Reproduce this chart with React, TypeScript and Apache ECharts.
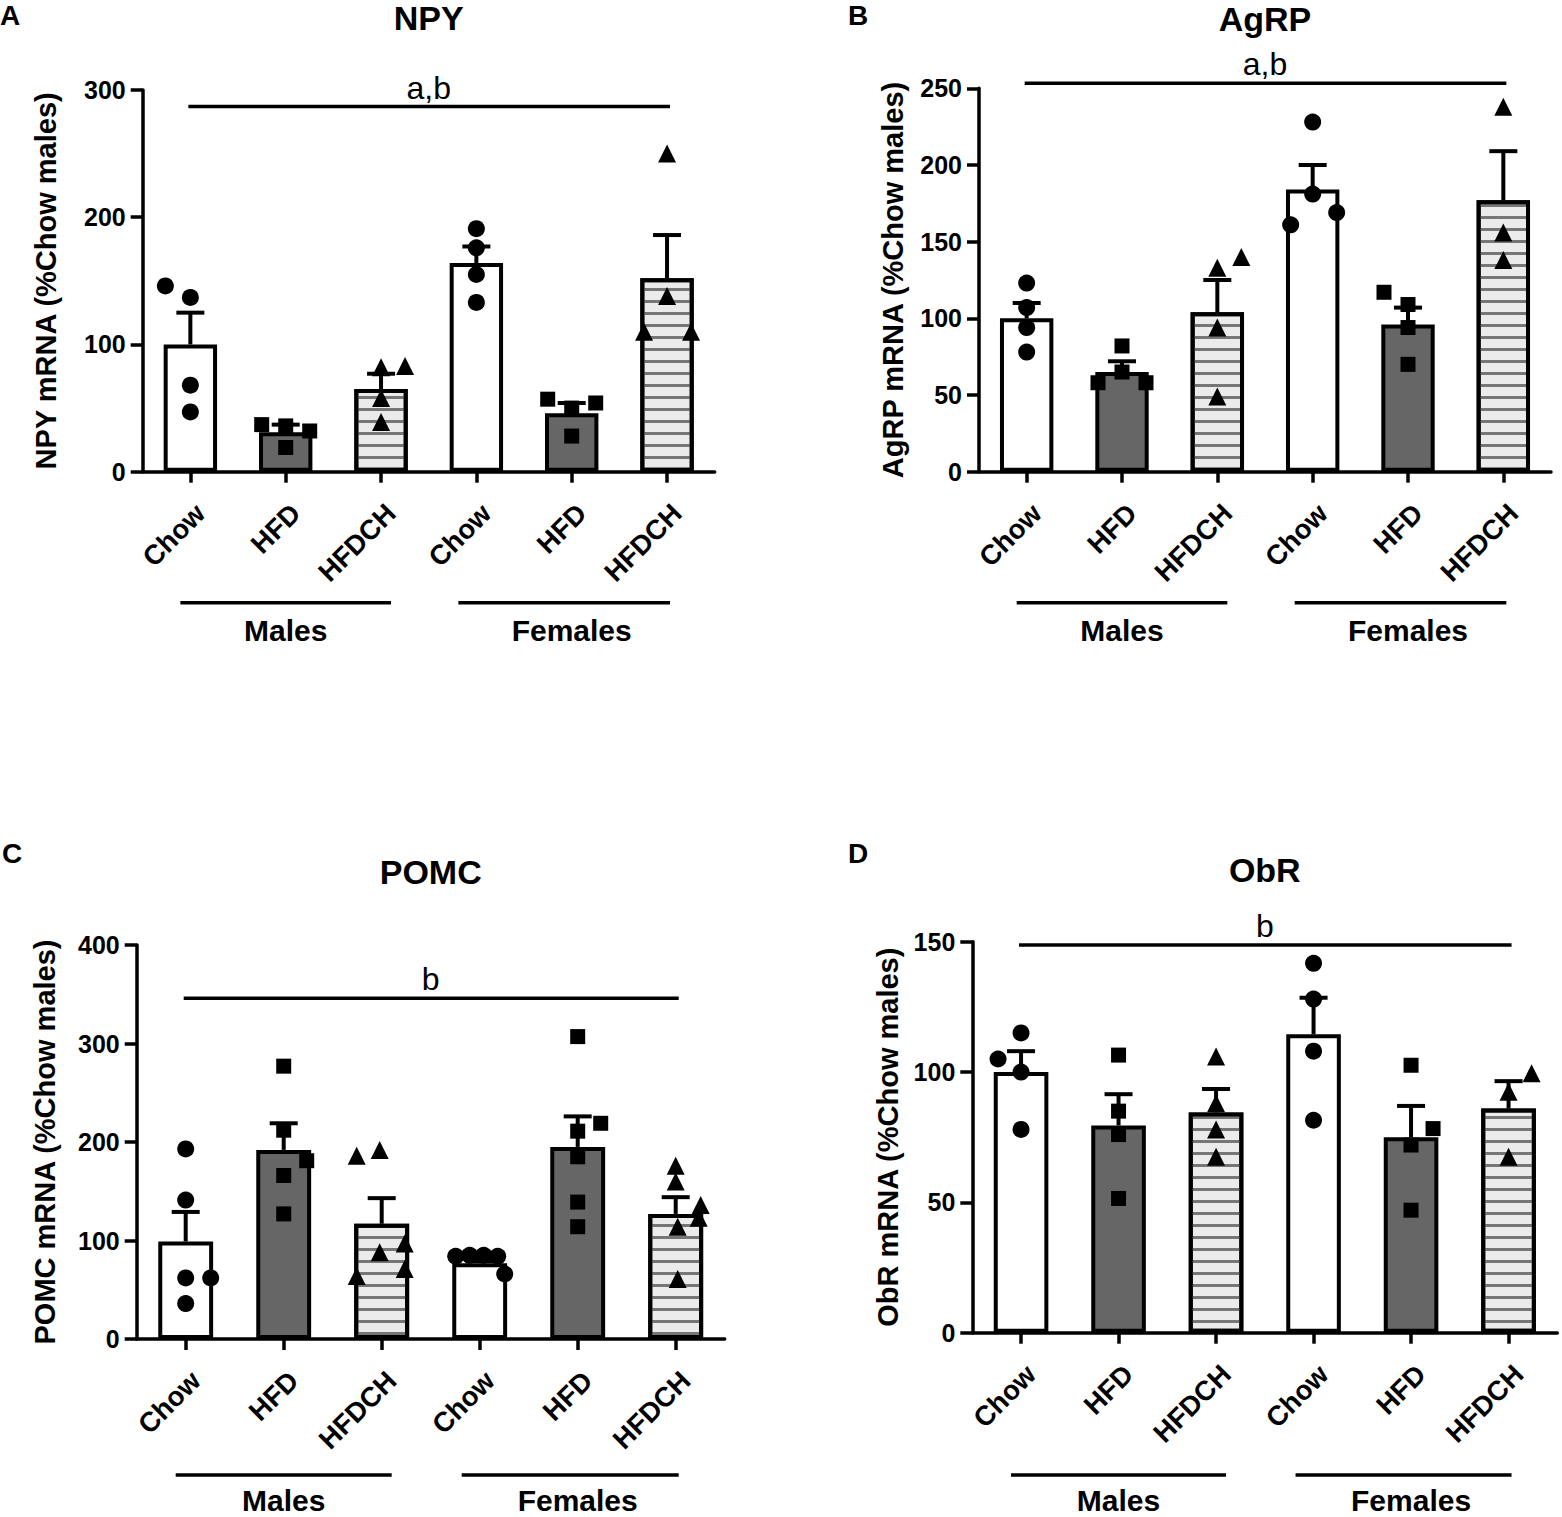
import React, { useEffect, useRef } from 'react';
import * as echarts from 'echarts';

// ---------- data ----------
const CATEGORIES = ['Chow', 'HFD', 'HFDCH', 'Chow', 'HFD', 'HFDCH'];
const GROUP_LABELS = ['Males', 'Females'];

// NPY
const NPY_TICKS = [0, 100, 200, 300];
const NPY_MEAN = [100, 31, 65, 164, 46, 152];
const NPY_SEM = [25, 6, 12, 13, 8, 34];
const NPY_POINTS = [
  [146, 137, 68, 47],
  [37, 36, 32, 19],
  [82, 83, 58, 39],
  [191, 176, 155, 133],
  [57, 50, 54, 28],
  [250, 138, 110, 110],
];
const NPY_SIG = 287;
const NPY_SIG_LABEL = 'a,b';

// AgRP
const AGRP_TICKS = [0, 50, 100, 150, 200, 250];
const AGRP_MEAN = [100, 65, 104, 184, 96, 177];
const AGRP_SEM = [10, 7, 21, 16, 11, 32];
const AGRP_POINTS = [
  [123, 107, 94, 78],
  [82, 65, 58, 58],
  [133, 140, 94, 49],
  [228, 181, 169, 161],
  [117, 109, 94, 70],
  [238, 156, 138],
];
const AGRP_SIG = 253.3;
const AGRP_SIG_LABEL = 'a,b';

// POMC
const POMC_TICKS = [0, 100, 200, 300, 400];
const POMC_MEAN = [99, 192, 117, 77, 195, 127];
const POMC_SEM = [30, 27, 26, 2, 31, 17];
const POMC_POINTS = [
  [193, 141, 62, 62, 36],
  [277, 212, 181, 166, 127],
  [186, 192, 97, 88, 64, 71],
  [84, 85, 85, 84, 66],
  [307, 219, 211, 185, 139, 114],
  [176, 160, 136, 123, 114, 61],
];
const POMC_SIG = 346;
const POMC_SIG_LABEL = 'b';

// ObR
const OBR_TICKS = [0, 50, 100, 150];
const OBR_MEAN = [100, 79.5, 84.5, 114.5, 75, 86];
const OBR_SEM = [8, 12, 9, 14, 12, 10.5];
const OBR_POINTS = [
  [115, 105, 100, 78],
  [106.5, 85, 76, 51.5],
  [106, 88, 78, 67.5],
  [141.7, 128, 108, 81.5],
  [102.6, 78.3, 72, 47],
  [99.5, 92.4, 67.5],
];
const OBR_SIG = 148.7;
const OBR_SIG_LABEL = 'b';

// ---------- styling / layout (pixel jitter of the dots, panel boxes) ----------
const NPY_JITTER = [[-25, 0, 0, 0], [-24, 0, 24, 0], [0, 24, 0, 0], [0, 0, 0, 0], [-24, 0, 24, 0], [0, 0, -23, 24]];
const AGRP_JITTER = [[0, 0, 0, 0], [0, 0, -24, 24], [0, 24, 0, 0], [0, 0, 24, -22], [-24, 0, 0, 0], [0, 0, 0]];
const POMC_JITTER = [[0, 0, 0, 25, 0], [0, 0, 23, 0, 0], [-25, -2, 23, -2, -25, 23], [-24, -10, 4, 18, 25], [0, 23, 0, 0, 0, 0], [0, 0, 25, 23, 2, 2]];
const OBR_JITTER = [[0, -23, 0, 0], [0, 0, 0, 0], [0, 0, 0, 0], [0, 0, 0, 0], [0, 22, 0, 0], [23, 0, 0]];

const FONT = '"Liberation Sans", Arial, Helvetica, sans-serif';

const PANELS = [
  {
    letter: 'A', title: 'NPY', yName: 'NPY mRNA (%Chow males)',
    ticks: NPY_TICKS, mean: NPY_MEAN, sem: NPY_SEM, points: NPY_POINTS, jitter: NPY_JITTER,
    sig: NPY_SIG, sigLabel: NPY_SIG_LABEL,
    grid: { left: 142.7, top: 90, width: 572, height: 381.7 },
    nameGap: 82, letterPos: [0, 15.5], titleY: 17.5, groupLineY: 602.7, groupTextY: 630,
  },
  {
    letter: 'B', title: 'AgRP', yName: 'AgRP mRNA (%Chow males)',
    ticks: AGRP_TICKS, mean: AGRP_MEAN, sem: AGRP_SEM, points: AGRP_POINTS, jitter: AGRP_JITTER,
    sig: AGRP_SIG, sigLabel: AGRP_SIG_LABEL,
    grid: { left: 979, top: 88.3, width: 572, height: 383.4 },
    nameGap: 72, letterPos: [848, 15], titleY: 18.5, groupLineY: 602.7, groupTextY: 630,
  },
  {
    letter: 'C', title: 'POMC', yName: 'POMC mRNA (%Chow males)',
    ticks: POMC_TICKS, mean: POMC_MEAN, sem: POMC_SEM, points: POMC_POINTS, jitter: POMC_JITTER,
    sig: POMC_SIG, sigLabel: POMC_SIG_LABEL,
    grid: { left: 136.7, top: 945, width: 588, height: 394 },
    nameGap: 77, letterPos: [2, 853], titleY: 872, groupLineY: 1475, groupTextY: 1500,
  },
  {
    letter: 'D', title: 'ObR', yName: 'ObR mRNA (%Chow males)',
    ticks: OBR_TICKS, mean: OBR_MEAN, sem: OBR_SEM, points: OBR_POINTS, jitter: OBR_JITTER,
    sig: OBR_SIG, sigLabel: OBR_SIG_LABEL,
    grid: { left: 972.3, top: 941.7, width: 585, height: 391 },
    nameGap: 70, letterPos: [848, 853], titleY: 870, groupLineY: 1475, groupTextY: 1500,
  },
];

const AXIS_W = 3.5;
const SHAPES = ['circle', 'rect', 'triangle'];
const SHAPE_SIZE = [17, 15, 18];

function barStyle(k: number) {
  const kind = k % 3;
  const base = { borderColor: '#000', borderWidth: 4 };
  if (kind === 0) return { ...base, color: '#ffffff' };
  if (kind === 1) return { ...base, color: '#666666' };
  return {
    ...base,
    color: '#ebebeb',
    decal: {
      symbol: 'rect',
      symbolSize: 1,
      dashArrayX: [1, 0],
      dashArrayY: [3, 9],
      rotation: 0,
      color: '#767676',
    },
  };
}

function buildOption() {
  const grids: any[] = [];
  const xAxes: any[] = [];
  const yAxes: any[] = [];
  const series: any[] = [];
  const graphics: any[] = [];

  PANELS.forEach((p, i) => {
    grids.push({ ...p.grid, containLabel: false });
    xAxes.push({
      type: 'category',
      gridIndex: i,
      data: CATEGORIES,
      axisLine: { show: true, lineStyle: { color: '#000', width: AXIS_W } },
      axisTick: { show: true, alignWithLabel: true, length: 11, lineStyle: { color: '#000', width: AXIS_W } },
      axisLabel: {
        interval: 0,
        rotate: 45,
        align: 'right',
        verticalAlign: 'top',
        margin: 27,
        fontSize: 27.5,
        fontWeight: 'bold',
        fontFamily: FONT,
        color: '#000',
      },
      splitLine: { show: false },
    });
    const min = p.ticks[0];
    const max = p.ticks[p.ticks.length - 1];
    yAxes.push({
      type: 'value',
      gridIndex: i,
      min,
      max,
      interval: p.ticks[1] - p.ticks[0],
      name: p.yName,
      nameLocation: 'middle',
      nameRotate: 90,
      nameGap: p.nameGap,
      nameTextStyle: { fontSize: 29, fontWeight: 'bold', fontFamily: FONT, color: '#000' },
      axisLine: { show: true, lineStyle: { color: '#000', width: AXIS_W } },
      axisTick: { show: true, length: 12, lineStyle: { color: '#000', width: AXIS_W } },
      axisLabel: { fontSize: 25, fontWeight: 'bold', fontFamily: FONT, color: '#000', margin: 17 },
      splitLine: { show: false },
    });

    // bars
    series.push({
      type: 'bar',
      xAxisIndex: i,
      yAxisIndex: i,
      barWidth: '56%',
      silent: true,
      z: 2,
      data: p.mean.map((v, k) => ({ value: v, itemStyle: barStyle(k) })),
    });

    // error bars (mean -> mean + SEM)
    series.push({
      type: 'custom',
      xAxisIndex: i,
      yAxisIndex: i,
      silent: true,
      clip: false,
      z: 3,
      encode: { x: 0, y: 1 },
      data: p.mean.map((m, k) => [k, m, p.sem[k]]),
      renderItem: (params: any, api: any) => {
        const x = api.value(0);
        const m = api.value(1);
        const s = api.value(2);
        const a = api.coord([x, m]);
        const b = api.coord([x, m + s]);
        const st = { stroke: '#000', lineWidth: 4 };
        return {
          type: 'group',
          children: [
            { type: 'line', shape: { x1: a[0], y1: a[1], x2: b[0], y2: b[1] }, style: st },
            { type: 'line', shape: { x1: b[0] - 14, y1: b[1], x2: b[0] + 14, y2: b[1] }, style: st },
          ],
        };
      },
    });

    // individual points
    SHAPES.forEach((shape, s) => {
      const data: any[] = [];
      p.points.forEach((vals, k) => {
        if (k % 3 !== s) return;
        vals.forEach((v, j) => {
          data.push({ value: [k, v], symbolOffset: [p.jitter[k][j] || 0, 0] });
        });
      });
      series.push({
        type: 'scatter',
        xAxisIndex: i,
        yAxisIndex: i,
        symbol: shape,
        symbolSize: SHAPE_SIZE[s],
        silent: true,
        z: 5,
        itemStyle: { color: '#000', opacity: 1 },
        data,
      });
    });

    // significance line + group brackets
    series.push({
      type: 'custom',
      xAxisIndex: i,
      yAxisIndex: i,
      silent: true,
      clip: false,
      z: 6,
      encode: { x: 0, y: 1 },
      data: [[0, p.sig]],
      renderItem: (params: any, api: any) => {
        const cx = CATEGORIES.map((_, k) => api.coord([k, 0])[0]);
        const sy = api.coord([0, api.value(1)])[1];
        const st = { stroke: '#000', lineWidth: AXIS_W };
        const gy = p.groupLineY;
        const ty = p.groupTextY;
        return {
          type: 'group',
          children: [
            { type: 'line', shape: { x1: cx[0] - 2, y1: sy, x2: cx[5] + 3, y2: sy }, style: st },
            {
              type: 'text',
              x: (cx[0] + cx[5]) / 2,
              y: sy - 3,
              style: {
                text: p.sigLabel, fill: '#000', fontSize: 32, fontFamily: FONT, fontWeight: 'normal',
                align: 'center', verticalAlign: 'bottom',
              },
            },
            { type: 'line', shape: { x1: cx[0] - 10, y1: gy, x2: cx[2] + 10, y2: gy }, style: st },
            { type: 'line', shape: { x1: cx[3] - 18, y1: gy, x2: cx[5] + 3, y2: gy }, style: st },
            {
              type: 'text', x: cx[1], y: ty,
              style: {
                text: GROUP_LABELS[0], fill: '#000', fontSize: 30, fontFamily: FONT, fontWeight: 'bold',
                align: 'center', verticalAlign: 'middle',
              },
            },
            {
              type: 'text', x: cx[4], y: ty,
              style: {
                text: GROUP_LABELS[1], fill: '#000', fontSize: 30, fontFamily: FONT, fontWeight: 'bold',
                align: 'center', verticalAlign: 'middle',
              },
            },
          ],
        };
      },
    });

    // panel letter and title
    graphics.push({
      type: 'text',
      x: p.letterPos[0],
      y: p.letterPos[1],
      style: {
        text: p.letter, fill: '#000', fontSize: 28, fontWeight: 'bold', fontFamily: FONT,
        align: 'left', verticalAlign: 'middle', textAlign: 'left', textVerticalAlign: 'middle',
      },
    });
    graphics.push({
      type: 'text',
      x: p.grid.left + p.grid.width / 2,
      y: p.titleY,
      style: {
        text: p.title, fill: '#000', fontSize: 34, fontWeight: 'bold', fontFamily: FONT,
        align: 'center', verticalAlign: 'middle', textAlign: 'center', textVerticalAlign: 'middle',
      },
    });
  });

  return {
    animation: false,
    backgroundColor: '#ffffff',
    grid: grids,
    xAxis: xAxes,
    yAxis: yAxes,
    series,
    graphic: graphics,
  };
}

export default function App() {
  const ref = useRef<HTMLDivElement>(null);
  useEffect(() => {
    if (!ref.current) return;
    const chart = echarts.init(ref.current, undefined, { renderer: 'svg' });
    chart.setOption(buildOption() as any);
    return () => chart.dispose();
  }, []);
  return (
    <div
      ref={ref}
      style={{ position: 'absolute', left: 0, top: 0, width: 1562, height: 1517, background: '#fff' }}
    />
  );
}
